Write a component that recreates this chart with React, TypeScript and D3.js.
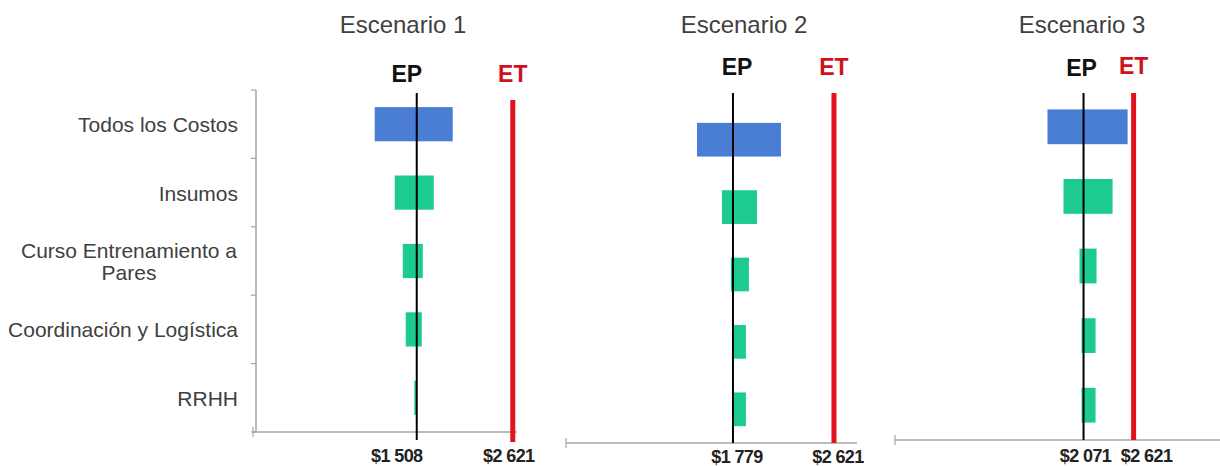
import React from "react";
import * as d3 from "d3";

// ---------- data ----------
const scenarios = ["Escenario 1", "Escenario 2", "Escenario 3"];
const categories = [
  "Todos los Costos",
  "Insumos",
  "Curso Entrenamiento a Pares",
  "Coordinación y Logística",
  "RRHH",
];
const categoryLines = [
  ["Todos los Costos"],
  ["Insumos"],
  ["Curso Entrenamiento a", "Pares"],
  ["Coordinación y Logística"],
  ["RRHH"],
];
const epValues = [1508, 1779, 2071];
const etValue = 2621;
const epTickLabels = ["$1 508", "$1 779", "$2 071"];
const etTickLabel = "$2 621";
// low / high end of each tornado bar, per scenario
const lowValues = [
  [1021, 1253, 1346, 1380, 1480],
  [1479, 1687, 1762, 1771, 1771],
  [1675, 1851, 2027, 2049, 2049],
];
const highValues = [
  [1925, 1705, 1578, 1566, 1500],
  [2179, 1979, 1912, 1887, 1887],
  [2555, 2390, 2214, 2203, 2203],
];
// horizontal axis extent in value units
const xDomains = [
  [-390, 2670],
  [387, 2813],
  [0, 3570],
];

// ---------- layout ----------
const W = 1220;
const H = 466;
const FONT = "'Liberation Sans', Arial, sans-serif";
const BLUE = "#4a7dd4";
const GREEN = "#1ecb8e";
const RED = "#e0141c";
const RED_TEXT = "#d0101c";
const AXIS = "#a6a6a6";
const TEXT = "#404040";

const panels = [
  {
    yRange: [90, 432], xRange: [253, 517], axisY: 432, yAxis: true,
    epTop: 93, etTop: 100, epBottom: 440, etBottom: 442,
    epLabelDx: -10, epLabelY: 82, etLabelDx: 0, etLabelY: 82,
    epTickDx: -20, etTickDx: -4, tickY: 462, titleX: 403,
  },
  {
    yRange: [106, 443], xRange: [566, 857], axisY: 443, yAxis: false,
    epTop: 93, etTop: 93, epBottom: 443, etBottom: 443,
    epLabelDx: 4, epLabelY: 75, etLabelDx: 0, etLabelY: 75,
    epTickDx: 4, etTickDx: 4, tickY: 463, titleX: 744,
  },
  {
    yRange: [92, 440], xRange: [895, 1220], axisY: 440, yAxis: false,
    epTop: 93, etTop: 93, epBottom: 440, etBottom: 440,
    epLabelDx: -2, epLabelY: 76, etLabelDx: 0, etLabelY: 74,
    epTickDx: 2, etTickDx: 13, tickY: 462, titleX: 1082,
  },
];

const LABEL_RIGHT = 238;

function Panel({ i }: { i: number }) {
  const p = panels[i];
  const x = d3.scaleLinear().domain(xDomains[i]).range(p.xRange);
  const y = d3
    .scaleBand<string>()
    .domain(categories)
    .range(p.yRange as [number, number])
    .paddingInner(0.5)
    .paddingOuter(0.25);
  const step = y.step();
  const boundaries = d3.range(categories.length + 1).map((k) => p.yRange[0] + k * step);
  const ep = x(epValues[i]);
  const et = x(etValue);

  return (
    <g>
      <text
        x={p.titleX}
        y={33}
        textAnchor="middle"
        fontFamily={FONT}
        fontSize={24}
        fill={TEXT}
      >
        {scenarios[i]}
      </text>

      {/* horizontal axis */}
      <line x1={p.xRange[0]} x2={p.xRange[1]} y1={p.axisY} y2={p.axisY} stroke={AXIS} strokeWidth={1.5} />
      <line x1={p.xRange[0]} x2={p.xRange[0]} y1={p.axisY - 5} y2={p.axisY + 5} stroke={AXIS} strokeWidth={1.2} />

      {p.yAxis && (
        <g>
          <line x1={256} x2={256} y1={p.yRange[0]} y2={p.yRange[1]} stroke={AXIS} strokeWidth={1.5} />
          {boundaries.map((b, k) => (
            <line key={k} x1={251} x2={256} y1={b} y2={b} stroke={AXIS} strokeWidth={1.2} />
          ))}
          {categories.map((c, k) => {
            const cy = (y(c) as number) + y.bandwidth() / 2;
            const lines = categoryLines[k];
            if (lines.length === 1) {
              return (
                <text
                  key={c}
                  x={LABEL_RIGHT}
                  y={cy + 8}
                  textAnchor="end"
                  fontFamily={FONT}
                  fontSize={21}
                  fill={TEXT}
                >
                  {lines[0]}
                </text>
              );
            }
            return (
              <text
                key={c}
                x={LABEL_RIGHT - 109}
                y={cy - 3}
                textAnchor="middle"
                fontFamily={FONT}
                fontSize={21}
                fill={TEXT}
              >
                {lines.map((t, j) => (
                  <tspan key={j} x={LABEL_RIGHT - 109} dy={j === 0 ? 0 : 22}>
                    {t}
                  </tspan>
                ))}
              </text>
            );
          })}
        </g>
      )}

      {/* bars */}
      {categories.map((c, k) => {
        const x0 = x(lowValues[i][k]);
        const x1 = x(highValues[i][k]);
        return (
          <rect
            key={c}
            x={x0}
            y={y(c)}
            width={Math.max(1, x1 - x0)}
            height={y.bandwidth()}
            fill={k === 0 ? BLUE : GREEN}
          />
        );
      })}

      {/* EP line */}
      <line x1={ep} x2={ep} y1={p.epTop} y2={p.epBottom} stroke="#000" strokeWidth={2} />
      {/* ET line */}
      <line x1={et} x2={et} y1={p.etTop} y2={p.etBottom} stroke={RED} strokeWidth={5} />

      <text x={ep + p.epLabelDx} y={p.epLabelY} textAnchor="middle" fontFamily={FONT} fontSize={23} fontWeight="bold" fill="#111">
        EP
      </text>
      <text x={et + p.etLabelDx} y={p.etLabelY} textAnchor="middle" fontFamily={FONT} fontSize={23} fontWeight="bold" fill={RED_TEXT}>
        ET
      </text>

      <text x={ep + p.epTickDx} y={p.tickY} textAnchor="middle" fontFamily={FONT} fontSize={18} fontWeight="bold" letterSpacing={-0.6} fill="#222">
        {epTickLabels[i]}
      </text>
      <text x={et + p.etTickDx} y={p.tickY} textAnchor="middle" fontFamily={FONT} fontSize={18} fontWeight="bold" letterSpacing={-0.6} fill="#222">
        {etTickLabel}
      </text>
    </g>
  );
}

export default function App() {
  return (
    <svg
      width={W}
      height={H}
      viewBox={`0 0 ${W} ${H}`}
      style={{ position: "absolute", left: 0, top: 0, background: "#fff" }}
    >
      <rect width={W} height={H} fill="#fff" />
      {scenarios.map((s, i) => (
        <Panel key={s} i={i} />
      ))}
    </svg>
  );
}
